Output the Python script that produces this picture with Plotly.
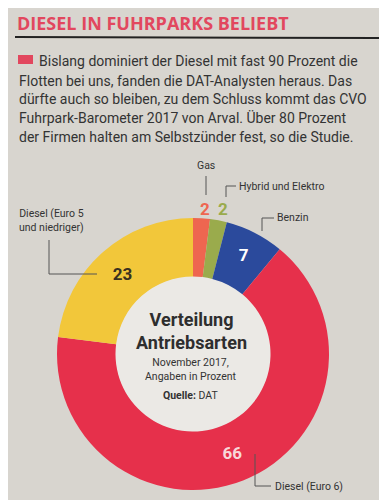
import plotly.graph_objects as go

# ---- data ----
categories = ["Gas", "Hybrid und Elektro", "Benzin", "Diesel (Euro 6)", "Diesel (Euro 5 und niedriger)"]
values = [2, 2, 7, 66, 23]
slice_colors = ["#ee6650", "#9aab4c", "#2b4a9c", "#e6304b", "#f2c73a"]
value_text_colors = ["#ee6650", "#9aab4c", "#ffffff", "#f8d8da", "#3a3020"]
text_positions = ["none", "none", "inside", "inside", "inside"]

title_text = "DIESEL IN FUHRPARKS BELIEBT"
body_lines = [
    "Bislang dominiert der Diesel mit fast 90 Prozent die",
    "Flotten bei uns, fanden die DAT-Analysten heraus. Das",
    "dürfte auch so bleiben, zu dem Schluss kommt das CVO",
    "Fuhrpark-Barometer 2017 von Arval. Über 80 Prozent",
    "der Firmen halten am Selbstzünder fest, so die Studie.",
]
center_title = ["Verteilung", "Antriebsarten"]
center_sub = ["November 2017,", "Angaben in Prozent"]
source_text = "<b>Quelle:</b> DAT"

W, H = 387, 500
BG = "#d8d5cf"
HOLE_BG = "#ebe9e5"
SMALL_FONT = "Liberation Sans Narrow, Arial Narrow, Roboto, sans-serif"

def px(x):
    return x / W

def py(y):
    return 1 - y / H

cx, cy, R = 185, 346, 136
fig = go.Figure()
fig.add_trace(go.Pie(
    labels=categories,
    values=values,
    sort=False,
    direction="clockwise",
    rotation=0,
    hole=0.57,
    marker=dict(colors=slice_colors, line=dict(width=0)),
    texttemplate="%{value}",
    textposition=text_positions,
    insidetextorientation="horizontal",
    textfont=dict(family="Roboto, sans-serif", size=17, color=value_text_colors, weight="bold"),
    domain=dict(x=[px(cx - R), px(cx + R)], y=[py(cy + R), py(cy - R)]),
    showlegend=False,
    hoverinfo="skip",
))

shapes = []
# lighter inner disc
hr = 78
shapes.append(dict(type="circle", xref="paper", yref="paper", layer="below",
                   x0=px(cx - hr), x1=px(cx + hr), y0=py(cy + hr), y1=py(cy - hr),
                   fillcolor=HOLE_BG, line=dict(width=0)))
# title underline
shapes.append(dict(type="line", xref="paper", yref="paper",
                   x0=px(7), x1=px(381), y0=py(29), y1=py(30),
                   line=dict(color="#222222", width=2)))
# red square
shapes.append(dict(type="rect", xref="paper", yref="paper",
                   x0=px(10), x1=px(25), y0=py(56), y1=py(47),
                   fillcolor="#e2475e", line=dict(width=0)))

def leader(points):
    for (x0, y0), (x1, y1) in zip(points[:-1], points[1:]):
        shapes.append(dict(type="line", xref="paper", yref="paper",
                           x0=px(x0), x1=px(x1), y0=py(y0), y1=py(y1),
                           line=dict(color="#555555", width=1)))

leader([(198, 168), (198, 187)])                 # Gas
leader([(228, 178), (218, 178), (218, 189)])     # Hybrid
leader([(266, 210), (254, 210), (254, 223)])     # Benzin
leader([(41, 232), (41, 266), (89, 266)])        # Diesel Euro 5
leader([(247, 446), (247, 478), (263, 478)])     # Diesel Euro 6

annotations = []

def note(text, x, y, size, color="#333333", family="Roboto, sans-serif", xanchor="left", bold=False):
    annotations.append(dict(text=text, x=px(x), y=py(y), xref="paper", yref="paper",
                            xanchor=xanchor, yanchor="middle", showarrow=False,
                            font=dict(family=family, size=size, color=color,
                                      weight="bold" if bold else "normal")))

note(title_text, 7, 15, 18, color="#e2475e", family="Open Sans, sans-serif", bold=True)
body_y = [53, 73, 91, 110, 129]
for i, (line, y) in enumerate(zip(body_lines, body_y)):
    note(line, 29 if i == 0 else 9, y, 14, color="#333333")

# small-slice values above the ring
note(str(values[0]), 197, 201, 17, color=value_text_colors[0], xanchor="center", bold=True)
note(str(values[1]), 215, 201, 17, color=value_text_colors[1], xanchor="center", bold=True)

note("Gas", 198, 157, 10.5, family=SMALL_FONT, xanchor="center")
note("Hybrid und Elektro", 229, 178, 10.5, family=SMALL_FONT)
note("Benzin", 267, 210, 10.5, family=SMALL_FONT)
note("Diesel (Euro 5<br>und niedriger)", 9, 213, 10.5, family=SMALL_FONT)
note("Diesel (Euro 6)", 265, 478, 10.5, family=SMALL_FONT)

annotations.append(dict(text="<br>".join(center_title), x=px(183), y=py(323), xref="paper", yref="paper",
                        xanchor="center", yanchor="middle", showarrow=False,
                        font=dict(family="Roboto, sans-serif", size=18, color="#2e2e2e", weight="bold")))
annotations.append(dict(text="<br>".join(center_sub), x=px(183), y=py(361), xref="paper", yref="paper",
                        xanchor="center", yanchor="middle", showarrow=False,
                        font=dict(family=SMALL_FONT, size=10.5, color="#333333")))
note(source_text, 183, 387, 10.5, family=SMALL_FONT, xanchor="center")

fig.update_layout(
    width=W, height=H,
    margin=dict(l=0, r=0, t=0, b=0),
    paper_bgcolor=BG, plot_bgcolor=BG,
    shapes=shapes, annotations=annotations,
)
fig.write_html("out.html")
